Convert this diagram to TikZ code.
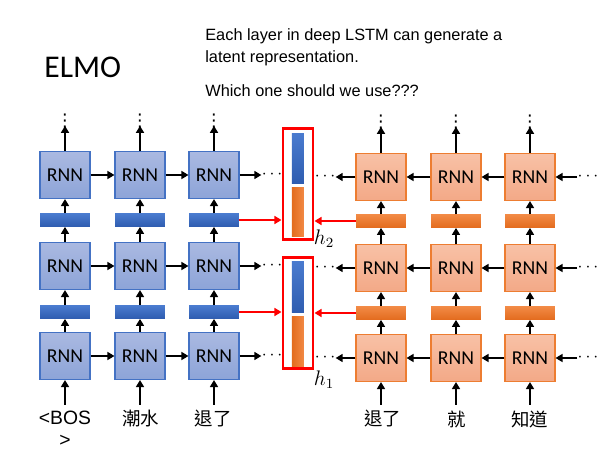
\documentclass[tikz,border=0pt]{standalone}
\usepackage{fontspec}
\setmainfont{Liberation Sans}
\newfontfamily\calib{Carlito}
\newfontfamily\cjk{Noto Sans CJK TC}
\newfontfamily\djv{DejaVu Sans}
\usetikzlibrary{arrows.meta}
\definecolor{bluebd}{HTML}{4472C4}
\definecolor{blueT}{HTML}{AAB9E1}
\definecolor{blueB}{HTML}{8DA4D8}
\definecolor{barbT}{HTML}{4A7BCF}
\definecolor{barbB}{HTML}{2F5DB0}
\definecolor{orbd}{HTML}{ED7D31}
\definecolor{orT}{HTML}{F8C1A6}
\definecolor{orB}{HTML}{F3A987}
\definecolor{baroT}{HTML}{F28A45}
\definecolor{baroB}{HTML}{E36C1E}
\begin{document}
\begin{tikzpicture}[x=0.02cm,y=-0.02cm,
  rnnL/.style={draw=bluebd, line width=0.6pt, top color=blueT, bottom color=blueB, minimum width=1cm, minimum height=0.94cm, inner sep=0pt, font=\calib\fontsize{11.2}{13}\selectfont},
  rnnR/.style={draw=orbd, line width=0.6pt, top color=orT, bottom color=orB, minimum width=1cm, minimum height=0.94cm, inner sep=0pt, font=\calib\fontsize{11.2}{13}\selectfont},
  barL/.style={top color=barbT, bottom color=barbB, minimum width=1cm, minimum height=0.26cm, inner sep=0pt},
  barR/.style={top color=baroT, bottom color=baroB, minimum width=1cm, minimum height=0.26cm, inner sep=0pt},
  arr/.style={-{Triangle[length=4pt,width=4.5pt]}, line width=1.3pt},
  rarr/.style={-{Triangle[length=4pt,width=4.5pt]}, line width=1pt, red},
  dotsh/.style={inner sep=0pt, font=\fontsize{10}{12}\selectfont},
  dotsv/.style={inner sep=0pt, font=\djv\fontsize{10}{12}\selectfont},
  word/.style={inner sep=0pt, font=\fontsize{11}{12.5}\selectfont, align=center},
  cword/.style={inner sep=0pt, font=\cjk\fontsize{10.5}{12}\selectfont},
  redbox/.style={draw=red, line width=1.7pt},
  hlab/.style={inner sep=0pt, font=\fontsize{12}{14}\selectfont}
]
\useasboundingbox (0,0) rectangle (600,450);

% titles
\node[anchor=base west, inner sep=0pt, font=\calib\fontsize{18}{21}\selectfont] (elmo) at (44,77) {ELMO};
\node[anchor=base west, inner sep=0pt, font=\fontsize{9.3}{11}\selectfont] (t1) at (205,40) {Each layer in deep LSTM can generate a};
\node[anchor=base west, inner sep=0pt, font=\fontsize{9.3}{11}\selectfont] (t2) at (205,62) {latent representation.};
\node[anchor=base west, inner sep=0pt, font=\fontsize{9.3}{11}\selectfont] (t3) at (205,96) {Which one should we use???};

% left (forward) network
\foreach \c/\x in {1/65,2/140,3/214}{
  \node[rnnL] (La\c) at (\x,356) {RNN};
  \node[barL] (Lb\c) at (\x,312) {};
  \node[rnnL] (Lc\c) at (\x,266) {RNN};
  \node[barL] (Ld\c) at (\x,220) {};
  \node[rnnL] (Le\c) at (\x,175) {RNN};
  \node[dotsv] (Lv\c) at (\x,121) {⋮};
  \draw[arr] (La\c) -- (Lb\c);
  \draw[arr] (Lb\c) -- (Lc\c);
  \draw[arr] (Lc\c) -- (Ld\c);
  \draw[arr] (Ld\c) -- (Le\c);
  \draw[arr] (Le\c.north) -- ([yshift=1.5pt]Lv\c.south);
}
\foreach \r in {a,c,e}{
  \draw[arr] (L\r1) -- (L\r2);
  \draw[arr] (L\r2) -- (L\r3);
}
\node[dotsh] (Lda) at (272,356) {$\cdots$};
\node[dotsh] (Ldc) at (272,266) {$\cdots$};
\node[dotsh] (Lde) at (272,175) {$\cdots$};
\draw[arr] (La3.east) -- (Lda.west);
\draw[arr] (Lc3.east) -- (Ldc.west);
\draw[arr] (Le3.east) -- (Lde.west);

% right (backward) network
\foreach \c/\x in {1/381,2/456,3/530}{
  \node[rnnR] (Ra\c) at (\x,358) {RNN};
  \node[barR] (Rb\c) at (\x,313) {};
  \node[rnnR] (Rc\c) at (\x,268) {RNN};
  \node[barR] (Rd\c) at (\x,221) {};
  \node[rnnR] (Re\c) at (\x,177) {RNN};
  \node[dotsv] (Rv\c) at (\x,122) {⋮};
  \draw[arr] (Ra\c) -- (Rb\c);
  \draw[arr] (Rb\c) -- (Rc\c);
  \draw[arr] (Rc\c) -- (Rd\c);
  \draw[arr] (Rd\c) -- (Re\c);
  \draw[arr] (Re\c.north) -- ([yshift=1.5pt]Rv\c.south);
}
\foreach \r in {a,c,e}{
  \draw[arr] (R\r3) -- (R\r2);
  \draw[arr] (R\r2) -- (R\r1);
}
\foreach \r/\y in {a/358,c/268,e/177}{
  \node[dotsh] (Rl\r) at (325,\y) {$\cdots$};
  \node[dotsh] (Rr\r) at (588,\y) {$\cdots$};
  \draw[arr] (R\r1.west) -- (Rl\r.east);
  \draw[arr] (Rr\r.west) -- (R\r3.east);
}

% red boxes with concatenated vectors
\node[redbox, minimum width=0.6cm, minimum height=2.24cm, inner sep=0pt] (H2) at (298,184) {};
\node[redbox, minimum width=0.6cm, minimum height=2.24cm, inner sep=0pt] (H1) at (298,313) {};
\fill[top color=barbT, bottom color=barbB] (292,133) rectangle (304,183);
\fill[left color=baroB, right color=baroT] (292,187) rectangle (304,236);
\fill[top color=barbT, bottom color=barbB] (292,261) rectangle (304,312);
\fill[left color=baroB, right color=baroT] (292,316) rectangle (304,366);
\draw[rarr] (Ld3.east) -- (Ld3.east -| H2.west);
\draw[rarr] (Rd1.west) -- (Rd1.west -| H2.east);
\draw[rarr] (Lb3.east) -- (Lb3.east -| H1.west);
\draw[rarr] (Rb1.west) -- (Rb1.west -| H1.east);
\node[hlab] (h2) at (324,239) {$h_2$};
\node[hlab] (h1) at (324,380) {$h_1$};

% input words
\node[word, anchor=base] (w1) at (65,446) {<BOS\\>};
\node[cword] (w2) at (141,419) {潮水};
\node[cword] (w3) at (213,419) {退了};
\node[cword] (w4) at (383,419) {退了};
\node[cword] (w5) at (457,419) {就};
\node[cword] (w6) at (530,419) {知道};
\draw[arr] ([yshift=3pt]La1.south |- w2.north) -- (La1.south);
\draw[arr] ([yshift=3pt]La2.south |- w2.north) -- (La2.south);
\draw[arr] ([yshift=3pt]La3.south |- w3.north) -- (La3.south);
\draw[arr] ([yshift=3pt]Ra1.south |- w4.north) -- (Ra1.south);
\draw[arr] ([yshift=3pt]Ra2.south |- w5.north) -- (Ra2.south);
\draw[arr] ([yshift=3pt]Ra3.south |- w6.north) -- (Ra3.south);
\end{tikzpicture}
\end{document}
